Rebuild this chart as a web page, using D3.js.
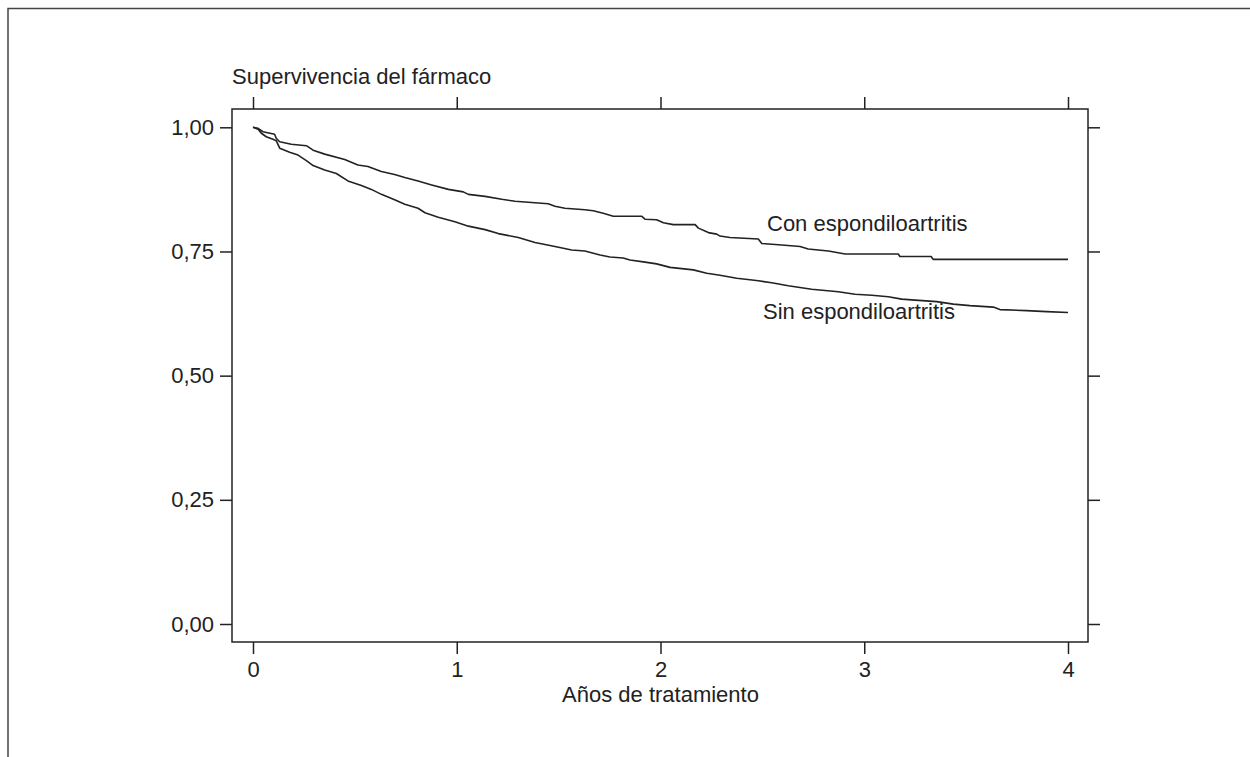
<!DOCTYPE html>
<html>
<head>
<meta charset="utf-8">
<script src="https://cdn.jsdelivr.net/npm/d3@7"></script>
<style>
  body { margin: 0; background: #fff; }
  svg { display: block; font-family: "Liberation Sans", Arial, sans-serif; }
</style>
</head>
<body>
<svg id="chart"></svg>
<script>
const width = 1250;
const height = 757;

// Kaplan-Meier estimates (years, survival)
const conTimes = [0, 0.025, 0.049, 0.106, 0.114, 0.131, 0.188, 0.262, 0.295, 0.352, 0.450, 0.515, 0.564, 0.630, 0.695, 0.745, 0.810, 0.877, 0.959, 1.032, 1.057, 1.139, 1.221, 1.286, 1.384, 1.449, 1.482, 1.531, 1.629, 1.670, 1.719, 1.768, 1.907, 1.924, 1.981, 2.014, 2.063, 2.170, 2.186, 2.235, 2.276, 2.292, 2.341, 2.480, 2.497, 2.595, 2.685, 2.725, 2.824, 2.906, 3.167, 3.175, 3.328, 3.339, 4.0];
const conSurv = [1.0, 0.998, 0.991, 0.986, 0.978, 0.971, 0.966, 0.963, 0.954, 0.946, 0.935, 0.924, 0.921, 0.911, 0.905, 0.899, 0.892, 0.884, 0.875, 0.870, 0.865, 0.861, 0.855, 0.851, 0.848, 0.846, 0.841, 0.837, 0.834, 0.832, 0.827, 0.821, 0.821, 0.815, 0.814, 0.808, 0.804, 0.804, 0.797, 0.788, 0.785, 0.781, 0.778, 0.775, 0.766, 0.763, 0.760, 0.755, 0.751, 0.745, 0.745, 0.740, 0.740, 0.734, 0.734];

const sinTimes = [0, 0.025, 0.041, 0.065, 0.098, 0.114, 0.131, 0.180, 0.221, 0.262, 0.295, 0.352, 0.409, 0.466, 0.532, 0.581, 0.630, 0.695, 0.745, 0.810, 0.844, 0.909, 0.991, 1.057, 1.139, 1.204, 1.302, 1.384, 1.482, 1.564, 1.629, 1.703, 1.752, 1.817, 1.850, 1.916, 1.981, 2.047, 2.161, 2.227, 2.292, 2.374, 2.439, 2.480, 2.546, 2.627, 2.742, 2.873, 2.955, 3.037, 3.118, 3.184, 3.249, 3.356, 3.437, 3.519, 3.633, 3.666, 3.797, 3.895, 4.0];
const sinSurv = [1.0, 0.996, 0.988, 0.981, 0.976, 0.973, 0.958, 0.950, 0.944, 0.933, 0.923, 0.914, 0.907, 0.892, 0.883, 0.875, 0.865, 0.854, 0.845, 0.837, 0.828, 0.819, 0.810, 0.801, 0.794, 0.786, 0.778, 0.768, 0.760, 0.753, 0.751, 0.743, 0.739, 0.737, 0.733, 0.729, 0.725, 0.718, 0.713, 0.706, 0.702, 0.696, 0.693, 0.691, 0.687, 0.681, 0.674, 0.669, 0.664, 0.662, 0.659, 0.654, 0.652, 0.649, 0.644, 0.641, 0.638, 0.633, 0.631, 0.629, 0.627];

const xTicks = [0, 1, 2, 3, 4];
const yTicks = [0, 0.25, 0.5, 0.75, 1];
const seriesLabels = ["Con espondiloartritis", "Sin espondiloartritis"];

const ink = "#222";
const fontSize = 22;
const frame = { left: 232, top: 109, right: 1088, bottom: 642 };

const svg = d3.select("#chart")
    .attr("width", width)
    .attr("height", height)
    .attr("viewBox", [0, 0, width, height]);

// outer figure border (top + left)
svg.append("path")
    .attr("d", `M8,${height}V8.5H${width}`)
    .attr("fill", "none")
    .attr("stroke", "#444")
    .attr("stroke-width", 1.5);

const x = d3.scaleLinear().domain([0, 4]).range([253, 1068]);
const y = d3.scaleLinear().domain([0, 1]).range([624, 127.3]);

const fmt = d => d3.format(".2f")(d).replace(".", ",");

function styleAxis(g) {
  g.select(".domain").remove();
  g.selectAll(".tick line").attr("stroke", ink).attr("stroke-width", 1.5);
  g.selectAll(".tick text")
      .attr("fill", ink)
      .attr("font-size", fontSize)
      .attr("font-family", "Liberation Sans, Arial, sans-serif");
}

svg.append("g")
    .attr("transform", `translate(${frame.left},0)`)
    .call(d3.axisLeft(y).tickValues(yTicks).tickFormat(fmt).tickSize(12).tickPadding(6))
    .call(styleAxis);

svg.append("g")
    .attr("transform", `translate(${frame.right},0)`)
    .call(d3.axisRight(y).tickValues(yTicks).tickFormat("").tickSize(12))
    .call(styleAxis);

svg.append("g")
    .attr("transform", `translate(0,${frame.bottom})`)
    .call(d3.axisBottom(x).tickValues(xTicks).tickFormat(d3.format("d")).tickSize(12).tickPadding(7))
    .call(styleAxis);

svg.append("g")
    .attr("transform", `translate(0,${frame.top})`)
    .call(d3.axisTop(x).tickValues(xTicks).tickFormat("").tickSize(12))
    .call(styleAxis);

// plot frame
svg.append("rect")
    .attr("x", frame.left)
    .attr("y", frame.top)
    .attr("width", frame.right - frame.left)
    .attr("height", frame.bottom - frame.top)
    .attr("fill", "none")
    .attr("stroke", ink)
    .attr("stroke-width", 1.5);

const line = d3.line()
    .x(d => x(d[0]))
    .y(d => y(d[1]));

const series = [
  d3.zip(conTimes, conSurv),
  d3.zip(sinTimes, sinSurv)
];

svg.append("g")
    .attr("fill", "none")
    .attr("stroke", ink)
    .attr("stroke-width", 1.6)
    .attr("stroke-linejoin", "round")
  .selectAll("path")
  .data(series)
  .join("path")
    .attr("d", line);

// texts
svg.append("text")
    .attr("x", 232)
    .attr("y", 84)
    .attr("font-size", fontSize)
    .attr("fill", ink)
    .text("Supervivencia del fármaco");

svg.append("text")
    .attr("x", x(2))
    .attr("y", 702)
    .attr("text-anchor", "middle")
    .attr("font-size", fontSize)
    .attr("fill", ink)
    .text("Años de tratamiento");

svg.append("text")
    .attr("x", 767)
    .attr("y", 231)
    .attr("font-size", fontSize)
    .attr("fill", ink)
    .text(seriesLabels[0]);

svg.append("text")
    .attr("x", 763)
    .attr("y", 319)
    .attr("font-size", fontSize)
    .attr("fill", ink)
    .text(seriesLabels[1]);
</script>
</body>
</html>
